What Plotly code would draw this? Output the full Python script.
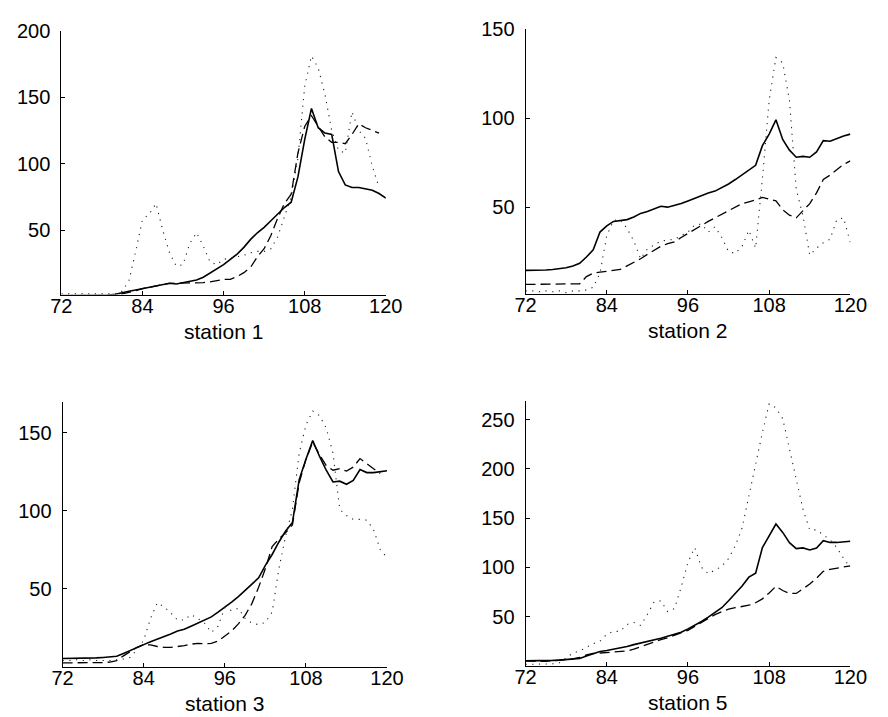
import plotly.graph_objects as go

# Time axis shared by all stations
months = list(range(72, 121))

# Station 1
st1_solid = [0.8, 0.8, 0.8, 0.8, 0.8, 0.8, 0.9, 1.2, 1.7, 3, 4, 5, 6, 7, 8, 9, 10, 9.5, 10.5, 11.5,
             12.5, 14.5, 17.5, 20.5, 24, 28, 32, 37, 43, 48, 52, 57, 62, 67, 71, 90, 118, 141.5, 127, 123,
             122, 94, 84, 82, 82, 81, 80, 77.5, 74]
st1_dashed = [0.5, 0.5, 0.5, 0.5, 0.5, 0.5, 0.6, 0.8, 1, 2, 3, 4.5, 6, 7, 8, 9, 10, 10, 10, 10.5,
              10.5, 10.5, 11, 12, 13, 13, 15, 18, 22, 30, 36, 46, 59, 70, 77, 108, 128, 136, 128, 120,
              116, 116, 115, 122, 130, 127, 125, 123, None]
st1_dotted = [2, 2, 2, 2, 1.5, 1.5, 1.5, 2, 2, 4, 12, 34, 58, 62, 70, 50, 33, 23, 24, 40,
              48, 38, 26, 24, 28, 29, 30, 31, 33, 34, 34, 36, 45, 60, 75, 104, 158, 181, 172, 152,
              125, 110, 108, 139, 125, 119, 98, 82, None]

# Station 2
st2_solid = [14.5, 14.5, 14.5, 14.7, 15, 15.3, 16, 17, 18.5, 22, 26, 36, 39.5, 42, 42.5, 43, 44.5, 46.5, 47.5, 49,
             50.5, 50, 51, 52, 53.5, 55, 56.5, 58, 59, 61, 63, 65.5, 68, 71, 73.5, 84.5, 91, 99, 88, 82,
             78, 78.5, 78, 81, 87.3, 87, 88.5, 90, 91]
st2_dashed = [6.6, 6.6, 6.6, 6.6, 6.6, 6.6, 6.6, 6.6, 7, 11, 13, 13.5, 14, 14.5, 15, 17, 19, 21, 23.5, 26,
              28, 29.5, 30.5, 33, 35.3, 37.2, 39.5, 42, 44, 46, 48, 50, 52, 53, 54, 55.5, 54.5, 53.5, 48.5, 45.5,
              44, 48, 52, 58, 65.5, 68, 71, 74, 76]
st2_dotted = [3, 3, 2.5, 3, 2.5, 3, 2, 3, 3, 3.5, 5, 13, 34, 42.5, 43, 38, 31, 21, 26.5, 29,
              31, 31.5, 32, 34, 36, 40, 40.5, 36, 39, 33, 25, 24, 28, 37, 27, 66, 110, 134, 131, 110,
              60, 45, 23, 27, 30, 32, 43, 44, 30]

# Station 3
st3_solid = [5.3, 5.3, 5.3, 5.4, 5.5, 5.7, 6, 6.3, 6.7, 8.5, 10.5, 12.6, 14.2, 16, 17.5, 19, 21, 23, 24, 26,
             28, 29.5, 32, 35, 38, 41.5, 45, 49, 52.5, 57, 65, 72, 80, 87, 92.5, 120, 133, 145, 135, 126,
             118.5, 119, 117, 119.5, 126.5, 124.5, 124.5, 125, 125.7]
st3_dashed = [2.5, 2.5, 2.5, 2.5, 2.5, 2.5, 2.7, 3, 4, 7, 10, 12.5, 14.2, 14, 13, 12.5, 12.5, 13, 13.5, 14.5,
              15, 14.8, 15, 16.5, 19.5, 23, 27.5, 33, 40.5, 51, 63, 77, 82, 86, 91, 118, 133, 144, 136, 129,
              126, 127, 125.5, 128, 133.5, 130, 127, 124, None]
st3_dotted = [4, 4, 4.5, 4, 4.5, 4, 4, 4, 4.5, 5, 6, 11, 17, 31, 41, 38.5, 34.5, 30, 30, 33.5,
              31, 28, 22, 26, 38, 36, 37.5, 31, 28, 27, 28.5, 35, 63, 84, 101, 137, 155, 164, 161, 153,
              137, 101, 97, 94.5, 94.5, 94, 88, 75, 70]

# Station 5
st5_solid = [5, 5, 5, 5.2, 5.5, 5.8, 6.2, 6.6, 7.5, 10, 12.5, 14.5, 15.5, 16.8, 18, 19.5, 21.5, 23, 24.5, 26.5,
             28, 30, 32, 34, 37.5, 41, 45, 49.5, 54, 59, 66, 73.5, 81, 90, 94, 120, 132, 144, 135.5, 125,
             119, 119.7, 117.7, 119.7, 127, 125.3, 125.3, 126, 126.5]
st5_dashed = [5, 4.5, 4.5, 4.5, 5, 5.5, 6, 7, 8.5, 11, 12.5, 13, 13.2, 13.5, 14, 15, 17, 19.5, 21.5, 24,
              26.5, 28.5, 31, 33.5, 36, 40, 44, 48, 52, 55, 57.5, 59, 60, 61.5, 64, 68, 74, 80.7, 76.5, 73.5,
              73.5, 78, 83, 89, 96, 98, 99, 100.5, 101.5]
st5_dotted = [1.5, 1.5, 1.5, 1.5, 2, 3, 8, 13, 15, 19, 22.5, 25, 32, 35, 35, 42, 44, 41, 52, 65,
              66, 55, 58, 80, 105, 120, 100, 93.5, 97, 101, 109, 122, 140, 172, 206, 237, 266, 262, 251, 220,
              189, 159, 138, 138, 133, 128, 120, 109, 100]

stations = [
    ("station 1", st1_solid, st1_dashed, st1_dotted, [50, 100, 150, 200], [1.5, 200]),
    ("station 2", st2_solid, st2_dashed, st2_dotted, [50, 100, 150], [1.3, 150]),
    ("station 3", st3_solid, st3_dashed, st3_dotted, [50, 100, 150], [0, 170]),
    ("station 5", st5_solid, st5_dashed, st5_dotted, [50, 100, 150, 200, 250], [0, 269]),
]

x_ticks = [72, 84, 96, 108, 120]

W, H = 888, 717
# panel boxes in pixels: (left, right, top, bottom)
boxes = [
    (52, 387, 20, 288),
    (531.3, 866.7, 18.3, 287.3),
    (53.3, 388.3, 396.7, 666),
    (531.3, 866.7, 396, 665),
]

FONT = "Liberation Sans, Arial, Helvetica, sans-serif"

fig = go.Figure()
layout = dict(
    width=W, height=H,
    margin=dict(l=0, r=0, t=0, b=0),
    paper_bgcolor="white", plot_bgcolor="white",
    showlegend=False,
    font=dict(family=FONT, size=20, color="black"),
    annotations=[],
)

styles = [
    dict(color="black", width=1.6, dash="solid"),
    dict(color="black", width=1.3, dash="10px,5px"),
    dict(color="#222222", width=1.1, dash="1.2px,5.5px"),
]

for i, (name, solid, dashed, dotted, yticks, yrange) in enumerate(stations):
    n = i + 1
    xa = "x" if n == 1 else f"x{n}"
    ya = "y" if n == 1 else f"y{n}"
    left, right, top, bottom = boxes[i]
    for series, st in zip((solid, dashed, dotted), styles):
        fig.add_trace(go.Scatter(
            x=months, y=series, mode="lines", line=st,
            xaxis=xa, yaxis=ya, hoverinfo="skip",
        ))
    axis_common = dict(
        showgrid=False, zeroline=False, showline=True, linecolor="black", linewidth=1,
        ticks="inside", ticklen=4, tickcolor="black", tickwidth=1,
        tickfont=dict(family=FONT, size=20, color="black"),
    )
    layout["xaxis" if n == 1 else f"xaxis{n}"] = dict(
        domain=[left / W, right / W], range=[72, 120],
        tickvals=x_ticks, ticktext=[str(v) for v in x_ticks],
        anchor=ya, ticklabelstandoff=-7, **axis_common,
    )
    layout["yaxis" if n == 1 else f"yaxis{n}"] = dict(
        domain=[1 - bottom / H, 1 - top / H], range=yrange,
        tickvals=yticks, ticktext=[str(v) for v in yticks],
        anchor=xa, ticklabelstandoff=6, **axis_common,
    )
    layout["annotations"].append(dict(
        text=name, xref="paper", yref="paper",
        x=(left + right) / 2 / W, y=1 - (bottom + 37) / H,
        xanchor="center", yanchor="middle", showarrow=False,
        font=dict(family=FONT, size=21, color="black"),
    ))

fig.update_layout(**layout)
fig.write_html("out.html")
